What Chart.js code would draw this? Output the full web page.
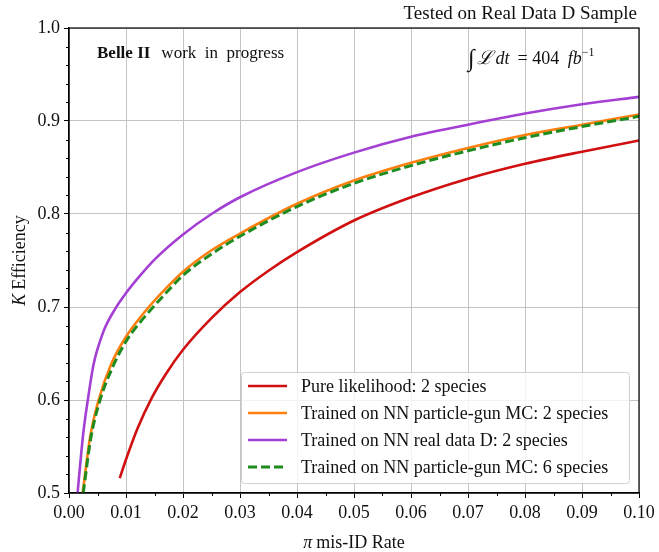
<!DOCTYPE html>
<html>
<head>
<meta charset="utf-8">
<script src="https://cdn.jsdelivr.net/npm/chart.js@4.4.0/dist/chart.umd.min.js"></script>
<style>
  body { margin: 0; background: #fff; }
  canvas { display: block; }
</style>
</head>
<body>
<canvas id="effChart" width="659" height="552"></canvas>
<script>
// series (pi mis-ID rate -> K efficiency)
var seriesLabels = [
  'Pure likelihood: 2 species',
  'Trained on NN particle-gun MC: 2 species',
  'Trained on NN real data D: 2 species',
  'Trained on NN particle-gun MC: 6 species'
]
var pureX = [0.0089, 0.010, 0.012, 0.0145, 0.017, 0.020, 0.025, 0.030, 0.035, 0.040, 0.050, 0.060, 0.070, 0.080, 0.090, 0.100]
var pureY = [0.516, 0.536, 0.569, 0.602, 0.628, 0.654, 0.688, 0.716, 0.739, 0.759, 0.793, 0.818, 0.838, 0.854, 0.867, 0.879]
var gun2X = [0.0024, 0.0037, 0.0052, 0.0075, 0.010, 0.012, 0.014, 0.017, 0.020, 0.025, 0.030, 0.040, 0.050, 0.060, 0.070, 0.080, 0.090, 0.100]
var gun2Y = [0.500, 0.560, 0.600, 0.640, 0.668, 0.685, 0.700, 0.720, 0.738, 0.761, 0.779, 0.811, 0.836, 0.855, 0.871, 0.885, 0.896, 0.907]
var realX = [0.0015, 0.0025, 0.0033, 0.0043, 0.006, 0.008, 0.010, 0.0125, 0.015, 0.020, 0.025, 0.030, 0.040, 0.050, 0.060, 0.070, 0.080, 0.090, 0.100]
var realY = [0.500, 0.564, 0.600, 0.638, 0.673, 0.697, 0.715, 0.734, 0.751, 0.778, 0.800, 0.818, 0.845, 0.866, 0.883, 0.896, 0.908, 0.918, 0.926]
var gun6X = [0.0025, 0.0038, 0.0053, 0.0077, 0.010, 0.012, 0.0145, 0.017, 0.020, 0.025, 0.030, 0.040, 0.050, 0.060, 0.070, 0.080, 0.090, 0.100]
var gun6Y = [0.500, 0.558, 0.597, 0.636, 0.663, 0.680, 0.698, 0.715, 0.734, 0.757, 0.776, 0.808, 0.833, 0.852, 0.868, 0.882, 0.894, 0.905]
var xTicks = [0, 0.01, 0.02, 0.03, 0.04, 0.05, 0.06, 0.07, 0.08, 0.09, 0.10]
var yTicks = [0.5, 0.6, 0.7, 0.8, 0.9, 1.0]

var colors = ['#d01010', '#ff7f0e', '#a43fd4', '#1e8c1e']
var serif = '"Liberation Serif", "DejaVu Serif", serif'

function pts(xs, ys) {
  return xs.map(function (x, i) { return { x: x, y: ys[i] } })
}

// runs of text with mixed fonts, drawn one after another
function drawRuns(ctx, x, y, runs) {
  runs.forEach(function (r) {
    ctx.font = r.font
    ctx.fillText(r.t, x, y + (r.dy || 0))
    x += ctx.measureText(r.t).width + (r.gap || 0)
  })
}
function runsWidth(ctx, runs) {
  var w = 0
  runs.forEach(function (r) {
    ctx.font = r.font
    w += ctx.measureText(r.t).width + (r.gap || 0)
  })
  return w
}

var overlay = {
  id: 'overlay',
  beforeDraw: function (chart) {
    var ctx = chart.ctx
    ctx.save()
    ctx.fillStyle = '#fff'
    ctx.fillRect(0, 0, chart.width, chart.height)
    ctx.restore()
  },
  afterDraw: function (chart) {
    var ctx = chart.ctx
    var a = chart.chartArea
    var xs = chart.scales.x, ys = chart.scales.y
    ctx.save()

    // frame
    ctx.strokeStyle = '#000'
    ctx.lineWidth = 1.2
    ctx.strokeRect(a.left, a.top, a.right - a.left, a.bottom - a.top)

    // minor ticks
    ctx.lineWidth = 1
    ctx.beginPath()
    for (var i = 0; i < xTicks.length - 1; i++) {
      var mx = Math.round(xs.getPixelForValue((xTicks[i] + xTicks[i + 1]) / 2)) + 0.5
      ctx.moveTo(mx, a.bottom)
      ctx.lineTo(mx, a.bottom + 3)
    }
    for (var j = 0; j < yTicks.length - 1; j++) {
      for (var k = 1; k < 5; k++) {
        var my = Math.round(ys.getPixelForValue(yTicks[j] + k * 0.02)) + 0.5
        ctx.moveTo(a.left, my)
        ctx.lineTo(a.left - 3, my)
      }
    }
    ctx.stroke()

    ctx.fillStyle = '#111'
    ctx.textBaseline = 'alphabetic'

    // title
    ctx.textAlign = 'right'
    ctx.font = '19px ' + serif
    ctx.fillText('Tested on Real Data D Sample', a.right - 2, 19)
    ctx.textAlign = 'left'

    drawRuns(ctx, 97, 58, [
      { t: 'Belle II', font: 'bold 17px ' + serif, gap: 11 },
      { t: 'work  in  progress', font: '17px ' + serif }
    ])

    drawRuns(ctx, 468, 64, [
      { t: '\u222B', font: 'italic 24px ' + serif, gap: 2, dy: 2 },
      { t: '\u2112', font: 'italic 19px ' + serif, gap: 3 },
      { t: 'dt', font: 'italic 18px ' + serif, gap: 8 },
      { t: '= 404 ', font: '18px ' + serif, gap: 4 },
      { t: 'fb', font: 'italic 18px ' + serif },
      { t: '\u22121', font: '12px ' + serif, dy: -8 }
    ])

    // axis titles
    var xr = [
      { t: '\u03C0', font: 'italic 18px ' + serif, gap: 4 },
      { t: 'mis-ID Rate', font: '18px ' + serif }
    ]
    drawRuns(ctx, (a.left + a.right) / 2 - runsWidth(ctx, xr) / 2, 548, xr)

    var yr = [
      { t: 'K', font: 'italic 18px ' + serif, gap: 4 },
      { t: 'Efficiency', font: '18px ' + serif }
    ]
    ctx.save()
    ctx.translate(25, (a.top + a.bottom) / 2)
    ctx.rotate(-Math.PI / 2)
    drawRuns(ctx, -runsWidth(ctx, yr) / 2, 0, yr)
    ctx.restore()

    // legend
    var lx = 241, ly = 372, lw = 388, lh = 111
    ctx.fillStyle = 'rgba(255,255,255,0.8)'
    ctx.strokeStyle = '#d0d0d0'
    ctx.lineWidth = 1
    ctx.beginPath()
    ctx.roundRect(lx + 0.5, ly + 0.5, lw, lh, 3)
    ctx.fill()
    ctx.stroke()
    ctx.textBaseline = 'middle'
    ctx.font = '18px ' + serif
    seriesLabels.forEach(function (lab, i) {
      var ry = 386 + i * 27
      ctx.strokeStyle = colors[i]
      ctx.lineWidth = i === 3 ? 3 : 2.5
      ctx.setLineDash(i === 3 ? [9, 4] : [])
      ctx.beginPath()
      ctx.moveTo(248, ry)
      ctx.lineTo(287, ry)
      ctx.stroke()
      ctx.setLineDash([])
      ctx.fillStyle = '#111'
      ctx.fillText(lab, 301, ry + 1)
    })

    ctx.restore()
  }
}

var ctx = document.getElementById('effChart').getContext('2d')
var effChart = new Chart(ctx, {
  type: 'line',
  data: {
    datasets: [
      { label: seriesLabels[0], data: pts(pureX, pureY), borderColor: colors[0], borderWidth: 2.6, order: 3 },
      { label: seriesLabels[1], data: pts(gun2X, gun2Y), borderColor: colors[1], borderWidth: 2.6, order: 2 },
      { label: seriesLabels[2], data: pts(realX, realY), borderColor: colors[2], borderWidth: 2.6, order: 1 },
      { label: seriesLabels[3], data: pts(gun6X, gun6Y), borderColor: colors[3], borderWidth: 3, borderDash: [9, 4], order: 0 }
    ]
  },
  options: {
    responsive: false,
    animation: false,
    elements: {
      point: { radius: 0 },
      line: { cubicInterpolationMode: 'monotone', fill: false }
    },
    layout: { padding: { left: 0, right: 20, top: 28, bottom: 0 } },
    plugins: {
      legend: { display: false },
      tooltip: { enabled: false }
    },
    scales: {
      x: {
        type: 'linear',
        min: 0,
        max: 0.1,
        afterBuildTicks: function (s) { s.ticks = xTicks.map(function (v) { return { value: v } }) },
        afterFit: function (s) { s.height = 59 },
        ticks: {
          autoSkip: false,
          maxRotation: 0,
          padding: 4,
          color: '#111',
          font: { family: serif, size: 18 },
          callback: function (v) { return v.toFixed(2) }
        },
        grid: { color: '#c4c4c4', lineWidth: 1, tickColor: '#000', tickLength: 5 },
        border: { color: '#000', width: 1.2 }
      },
      y: {
        min: 0.5,
        max: 1.0,
        afterBuildTicks: function (s) { s.ticks = yTicks.map(function (v) { return { value: v } }) },
        afterFit: function (s) { s.width = 69 },
        ticks: {
          padding: 4,
          color: '#111',
          font: { family: serif, size: 18 },
          callback: function (v) { return v.toFixed(1) }
        },
        grid: { color: '#c4c4c4', lineWidth: 1, tickColor: '#000', tickLength: 5 },
        border: { color: '#000', width: 1.2 }
      }
    }
  },
  plugins: [overlay]
})
</script>
</body>
</html>
